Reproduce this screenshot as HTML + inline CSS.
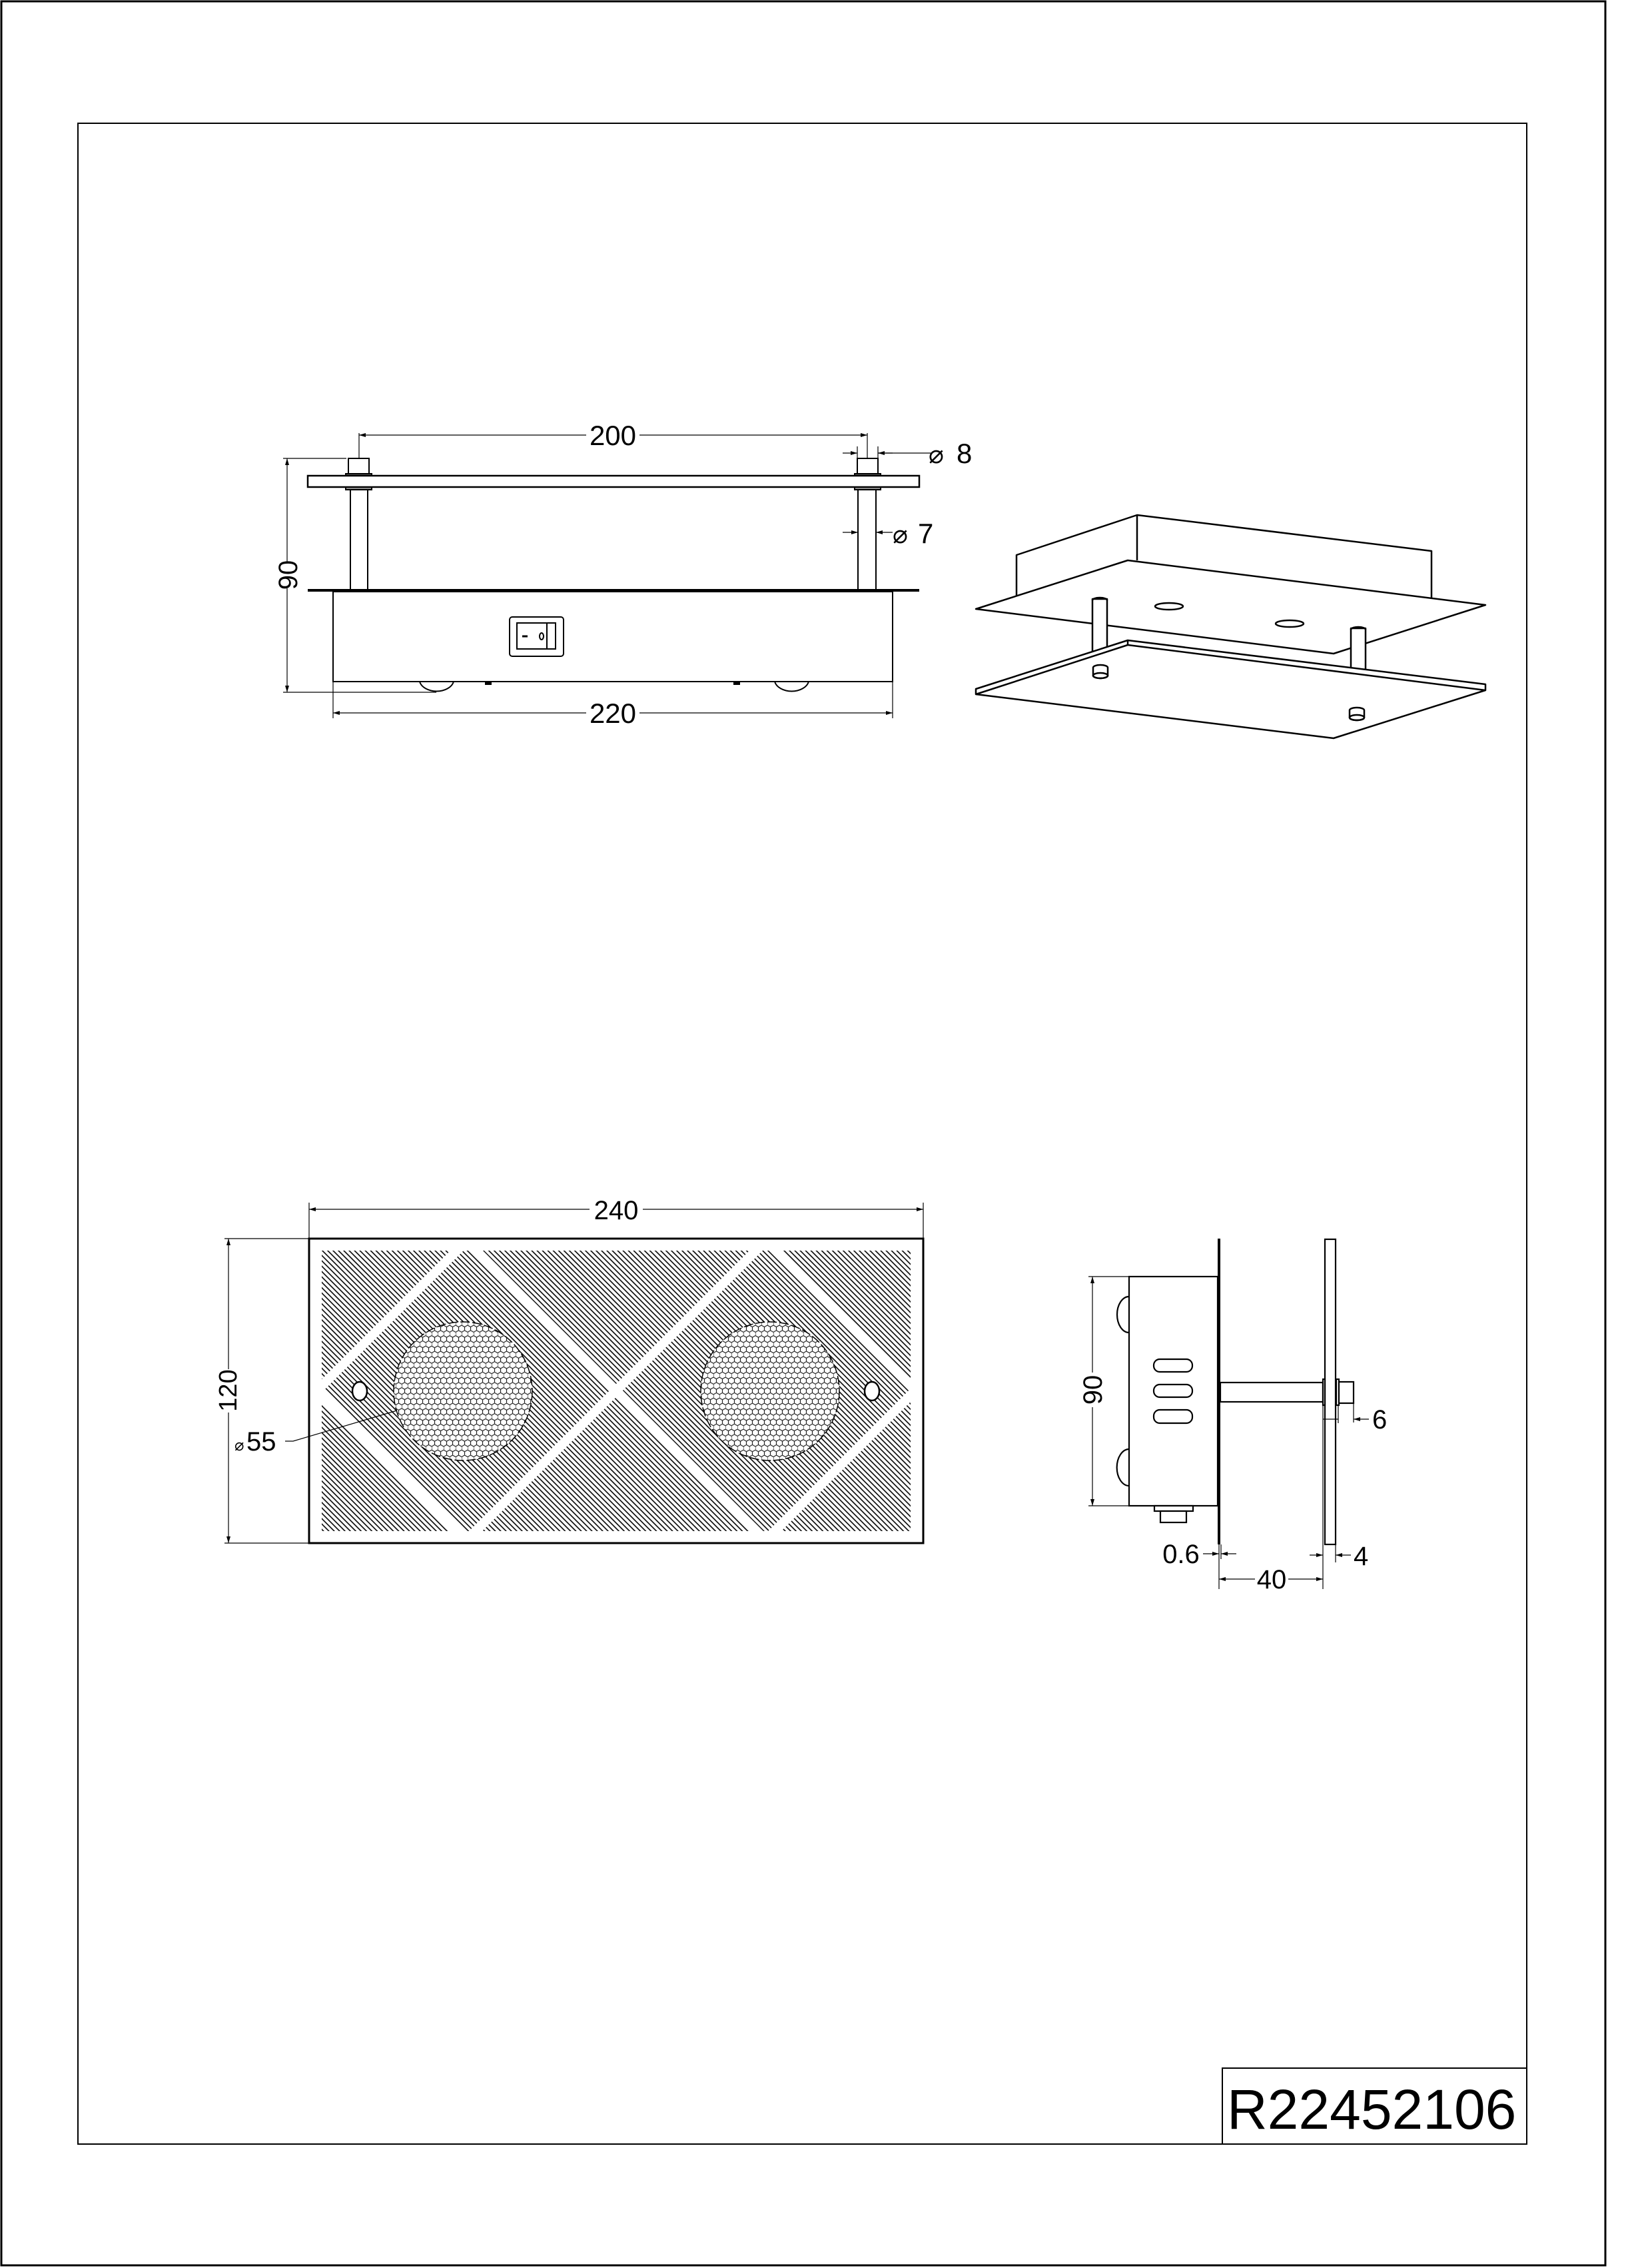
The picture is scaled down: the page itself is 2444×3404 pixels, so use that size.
<!DOCTYPE html>
<html><head><meta charset="utf-8"><style>
html,body{margin:0;padding:0;background:#fff}
svg{display:block}
text{font-family:"Liberation Sans",sans-serif;fill:#000}
</style></head><body>
<svg width="2444" height="3404" viewBox="0 0 2444 3404" xmlns="http://www.w3.org/2000/svg">
<defs>
<marker id="a" viewBox="0 0 10 6" refX="10" refY="3" markerWidth="10" markerHeight="6" markerUnits="userSpaceOnUse" orient="auto-start-reverse"><path d="M0,0 L10,3 L0,6 z" fill="#000"/></marker>
<pattern id="hatch" width="5.7" height="6" patternUnits="userSpaceOnUse" patternTransform="rotate(-45)"><line x1="1" y1="0" x2="1" y2="6" stroke="#000" stroke-width="1.6"/></pattern>
<pattern id="hex" width="9" height="15.6" patternUnits="userSpaceOnUse"><path d="M0,2.6 L4.5,0 L9,2.6 M0,2.6 V7.8 L4.5,10.4 L9,7.8 M4.5,10.4 V15.6" fill="none" stroke="#222" stroke-width="1.2"/></pattern>
<clipPath id="inner"><rect x="483" y="1877" width="884" height="421"/></clipPath>
</defs>
<rect width="2444" height="3404" fill="#fff"/>
<rect x="2" y="2" width="2408" height="3398" fill="none" stroke="#000" stroke-width="3"/>
<rect x="117" y="185" width="2175" height="3033" fill="none" stroke="#000" stroke-width="2"/>
<!-- title -->
<rect x="1835" y="3104" width="457" height="114" fill="none" stroke="#000" stroke-width="2"/>
<text x="1842" y="3195" font-size="84">R22452106</text>

<!-- FRONT VIEW -->
<g stroke="#000" fill="none" stroke-width="2">
<rect x="462" y="714" width="918" height="17" stroke-width="2.5"/>
<rect x="1287" y="688" width="31" height="23"/><rect x="1283" y="711" width="39" height="3" fill="#555"/><rect x="1283" y="731" width="39" height="4" fill="#888"/>
<rect x="523" y="688" width="31" height="23"/><rect x="519" y="711" width="39" height="3" fill="#555"/><rect x="519" y="731" width="39" height="4" fill="#888"/>
<line x1="526" y1="735" x2="526" y2="886"/><line x1="552" y1="735" x2="552" y2="886"/>
<line x1="1288" y1="735" x2="1288" y2="886"/><line x1="1315" y1="735" x2="1315" y2="886"/>
<line x1="462" y1="886" x2="1380" y2="886" stroke-width="4"/>
<rect x="500" y="888" width="840" height="135"/>
<rect x="765" y="926" width="81" height="59" rx="4"/>
<rect x="776" y="935" width="58" height="39"/>
<line x1="821" y1="935" x2="821" y2="974"/>
<line x1="784" y1="955" x2="792" y2="955" stroke-width="3"/>
<ellipse cx="813" cy="955" rx="3" ry="5"/>
<path d="M630,1023 A26,18 0 0 0 681,1023"/>
<path d="M1163,1023 A26,18 0 0 0 1214,1023"/>
<rect x="729" y="1023" width="8" height="4" fill="#000"/><rect x="1102" y="1023" width="8" height="4" fill="#000"/>
</g>
<g stroke="#000" stroke-width="1.2" fill="none">
<line x1="539" y1="650" x2="539" y2="688"/><line x1="1302" y1="650" x2="1302" y2="688"/>
<line x1="539" y1="653" x2="880" y2="653" marker-start="url(#a)"/><line x1="960" y1="653" x2="1302" y2="653" marker-end="url(#a)"/>
<line x1="425" y1="688" x2="520" y2="688"/><line x1="425" y1="1039" x2="655" y2="1039"/>
<line x1="431" y1="688" x2="431" y2="843" marker-start="url(#a)"/><line x1="431" y1="883" x2="431" y2="1039" marker-end="url(#a)"/>
<line x1="500" y1="1023" x2="500" y2="1078"/><line x1="1340" y1="1023" x2="1340" y2="1078"/>
<line x1="500" y1="1070" x2="880" y2="1070" marker-start="url(#a)"/><line x1="960" y1="1070" x2="1340" y2="1070" marker-end="url(#a)"/>
<line x1="1287" y1="670" x2="1287" y2="690"/><line x1="1318" y1="670" x2="1318" y2="690"/>
<line x1="1265" y1="680" x2="1287" y2="680" marker-end="url(#a)"/><line x1="1340" y1="680" x2="1318" y2="680" marker-end="url(#a)"/><line x1="1318" y1="680" x2="1398" y2="680"/>
<line x1="1265" y1="799" x2="1288" y2="799" marker-end="url(#a)"/><line x1="1340" y1="799" x2="1315" y2="799" marker-end="url(#a)"/>
</g>
<text x="920" y="668" font-size="42" text-anchor="middle">200</text>
<text x="920" y="1085" font-size="42" text-anchor="middle">220</text>
<text transform="translate(446,863) rotate(-90)" font-size="40" text-anchor="middle">90</text>
<text x="1394" y="695" font-size="38">⌀</text><text x="1436" y="695" font-size="42">8</text>
<text x="1340" y="815" font-size="38">⌀</text><text x="1378" y="815" font-size="42">7</text>

<!-- ISO VIEW -->
<g stroke="#000" stroke-width="2.5" fill="#fff" stroke-linejoin="round">
<polyline points="1526,895 1526,833 1707,773 2149,827 2149,897" fill="none"/>
<line x1="1707" y1="773" x2="1707" y2="841"/>
<polygon points="1465,914 1693,841 2230,908 2002,981"/>
<ellipse cx="1755" cy="910" rx="21" ry="5" fill="none"/>
<ellipse cx="1936" cy="936" rx="21" ry="5" fill="none"/>
<rect x="1640" y="899" width="22" height="80"/><path d="M1640,901 A11,4 0 0 1 1662,901" fill="none"/>
<rect x="2028" y="943" width="22" height="62"/><path d="M2028,945 A11,4 0 0 1 2050,945" fill="none"/>
<polygon points="1465,1034 1693,961 2230,1027 2230,1036 2002,1108 1465,1042"/>
<polyline points="1465,1042 1693,968 2230,1036" fill="none"/>
<line x1="1693" y1="961" x2="1693" y2="968"/>
<path d="M1641,1002 V1014 A11,4 0 0 0 1663,1014 V1002 A11,4 0 0 0 1641,1002 z"/><ellipse cx="1652" cy="1014" rx="11" ry="4" fill="none"/>
<path d="M2026,1066 V1077 A11,4 0 0 0 2048,1077 V1066 A11,4 0 0 0 2026,1066 z"/><ellipse cx="2037" cy="1077" rx="11" ry="4" fill="none"/>
</g>

<!-- BOTTOM VIEW -->
<rect x="464" y="1859" width="922" height="457" fill="#fff" stroke="#000" stroke-width="3"/>
<g clip-path="url(#inner)">
<rect x="483" y="1877" width="884" height="421" fill="url(#hatch)"/>
<g stroke="#fff" stroke-width="14" fill="none">
<line x1="705" y1="1867" x2="1145" y2="2307"/><line x1="1145" y1="1867" x2="705" y2="2307"/>
<polyline points="696,1867 476,2087 696,2307"/>
<polyline points="1154,1867 1374,2087 1154,2307"/>
</g>
</g>
<circle cx="695" cy="2088" r="104" fill="#fff"/><circle cx="695" cy="2088" r="104" fill="url(#hex)" stroke="#000" stroke-width="1.5" stroke-dasharray="14 4"/>
<circle cx="1156" cy="2088" r="104" fill="#fff"/><circle cx="1156" cy="2088" r="104" fill="url(#hex)" stroke="#000" stroke-width="1.5" stroke-dasharray="14 4"/>
<ellipse cx="540" cy="2088" rx="11" ry="14" fill="#fff" stroke="#000" stroke-width="2.5"/>
<ellipse cx="1309" cy="2088" rx="11" ry="14" fill="#fff" stroke="#000" stroke-width="2.5"/>
<g stroke="#000" stroke-width="1.2" fill="none">
<line x1="464" y1="1805" x2="464" y2="1859"/><line x1="1386" y1="1805" x2="1386" y2="1859"/>
<line x1="464" y1="1815" x2="885" y2="1815" marker-start="url(#a)"/><line x1="965" y1="1815" x2="1386" y2="1815" marker-end="url(#a)"/>
<line x1="337" y1="1859" x2="464" y2="1859"/><line x1="337" y1="2316" x2="464" y2="2316"/>
<line x1="343" y1="1859" x2="343" y2="2055" marker-start="url(#a)"/><line x1="343" y1="2120" x2="343" y2="2316" marker-end="url(#a)"/>
<polyline points="428,2163 440,2163 596,2117"/>
</g>
<text x="925" y="1830" font-size="40" text-anchor="middle">240</text>
<text transform="translate(355,2087) rotate(-90)" font-size="38" text-anchor="middle">120</text>
<text x="352" y="2177" font-size="24">⌀</text><text x="370" y="2177" font-size="40">55</text>

<!-- SIDE VIEW -->
<g stroke="#000" stroke-width="2.2" fill="#fff">
<line x1="1830" y1="1859" x2="1830" y2="2318" stroke-width="4"/>
<rect x="1695" y="1916" width="133" height="344"/>
<path d="M1695,1946 A18,27 0 0 0 1695,2000" fill="none"/>
<path d="M1695,2175 A18,27 0 0 0 1695,2230" fill="none"/>
<rect x="1732" y="2040" width="58" height="19" rx="9"/>
<rect x="1732" y="2078" width="58" height="19" rx="9"/>
<rect x="1732" y="2116" width="58" height="20" rx="9"/>
<rect x="1733" y="2260" width="58" height="8"/>
<rect x="1742" y="2268" width="39" height="17"/>
<rect x="1832" y="2075" width="154" height="29"/>
<rect x="1989" y="1860" width="16" height="458"/>
<rect x="1986" y="2070" width="3" height="39"/><rect x="2006" y="2070" width="4" height="39"/>
<rect x="2010" y="2074" width="22" height="32"/>
</g>
<g stroke="#000" stroke-width="1.2" fill="none">
<line x1="1634" y1="1916" x2="1695" y2="1916"/><line x1="1634" y1="2260" x2="1695" y2="2260"/>
<line x1="1640" y1="1916" x2="1640" y2="2060" marker-start="url(#a)"/><line x1="1640" y1="2112" x2="1640" y2="2260" marker-end="url(#a)"/>
<line x1="1986" y1="2110" x2="1986" y2="2385"/><line x1="2009" y1="2110" x2="2009" y2="2136"/><line x1="2032" y1="2106" x2="2032" y2="2135"/>
<line x1="1986" y1="2130" x2="2009" y2="2130"/>
<line x1="2055" y1="2130" x2="2032" y2="2130" marker-end="url(#a)"/>
<line x1="1830" y1="2318" x2="1830" y2="2385"/><line x1="1833" y1="2318" x2="1833" y2="2340"/>
<line x1="1806" y1="2332" x2="1830" y2="2332" marker-end="url(#a)"/><line x1="1856" y1="2332" x2="1833" y2="2332" marker-end="url(#a)"/>
<line x1="2005" y1="2318" x2="2005" y2="2345"/>
<line x1="1966" y1="2334" x2="1986" y2="2334" marker-end="url(#a)"/><line x1="2028" y1="2334" x2="2005" y2="2334" marker-end="url(#a)"/>
<line x1="1830" y1="2370" x2="1884" y2="2370" marker-start="url(#a)"/><line x1="1934" y1="2370" x2="1986" y2="2370" marker-end="url(#a)"/>
</g>
<text transform="translate(1654,2086) rotate(-90)" font-size="40" text-anchor="middle">90</text>
<text x="2060" y="2144" font-size="40">6</text>
<text x="1773" y="2346" font-size="40" text-anchor="middle">0.6</text>
<text x="2032" y="2349" font-size="40">4</text>
<text x="1909" y="2384" font-size="40" text-anchor="middle">40</text>
</svg>
</body></html>
